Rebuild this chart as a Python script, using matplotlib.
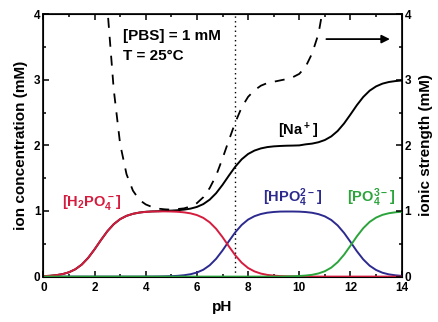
import numpy as np
import matplotlib.pyplot as plt
from matplotlib.ticker import MultipleLocator

plt.rcParams['font.family'] = ['Liberation Sans', 'DejaVu Sans']
plt.rcParams['font.weight'] = 'bold'
plt.rcParams['mathtext.fontset'] = 'custom'
plt.rcParams['mathtext.rm'] = 'Liberation Sans:bold'
plt.rcParams['mathtext.default'] = 'rm'

# pH grid (step 0.25) and values (mM)
ph = np.linspace(0, 14, 57)
h2po4 = [0.007, 0.012, 0.022, 0.038, 0.066, 0.112, 0.183, 0.285, 0.415, 0.557,
         0.691, 0.799, 0.876, 0.926, 0.957, 0.976, 0.986, 0.992, 0.993, 0.994,
         0.992, 0.988, 0.979, 0.964, 0.938, 0.895, 0.827, 0.729, 0.602, 0.460,
         0.324, 0.212, 0.131, 0.079, 0.046, 0.026, 0.015, 0.008, 0.005, 0.003,
         0.001] + [0.0] * 16
hpo4 = [0.0] * 16 + [0.001, 0.001, 0.002, 0.004, 0.007, 0.012, 0.021, 0.036, 0.062,
                     0.105, 0.173, 0.271, 0.398, 0.540, 0.676, 0.788, 0.869, 0.921,
                     0.954, 0.974, 0.985, 0.991, 0.992, 0.992, 0.990, 0.984, 0.973,
                     0.952, 0.918, 0.863, 0.780, 0.666, 0.529, 0.387, 0.262, 0.166,
                     0.101, 0.059, 0.034, 0.020, 0.011]
po4 = [0.0] * 38 + [0.003, 0.005, 0.009, 0.016, 0.027, 0.048, 0.082, 0.137, 0.220,
                    0.334, 0.471, 0.613, 0.738, 0.834, 0.899, 0.941, 0.966, 0.980,
                    0.989]
na = [0.007, 0.012, 0.022, 0.038, 0.066, 0.112, 0.183, 0.285, 0.415, 0.557,
      0.691, 0.799, 0.876, 0.926, 0.957, 0.976, 0.988, 0.994, 0.997, 1.002,
      1.006, 1.012, 1.021, 1.036, 1.062, 1.105, 1.173, 1.271, 1.398, 1.540,
      1.676, 1.788, 1.869, 1.921, 1.954, 1.974, 1.985, 1.991, 1.995, 1.997,
      2.000, 2.016, 2.027, 2.048, 2.082, 2.137, 2.220, 2.334, 2.471, 2.613,
      2.738, 2.834, 2.899, 2.941, 2.966, 2.980, 2.989]

ph_i = np.linspace(2.25, 11, 36)
ionic = [6.6, 4.1, 2.85, 2.02, 1.56, 1.31, 1.17, 1.10, 1.06, 1.035, 1.025, 1.02,
         1.03, 1.04, 1.07, 1.12, 1.21, 1.35, 1.54, 1.80, 2.08, 2.35, 2.58, 2.74,
         2.84, 2.91, 2.95, 2.97, 2.99, 3.01, 3.04, 3.09, 3.20, 3.40, 3.70, 4.25]

red, blue, green = '#d51c3e', '#2c2a8e', '#2ba43c'

fig = plt.figure(figsize=(4.38, 3.22), dpi=100)
ax = fig.add_axes([0.099, 0.141, 0.818, 0.815])
ax.plot(ph, na, color='black', lw=1.4, zorder=1)
ax.plot(ph, hpo4, color=blue, lw=1.4, zorder=2)
ax.plot(ph, h2po4, color=red, lw=1.4, zorder=3)
ax.plot(ph, po4, color=green, lw=1.4, zorder=4)
ax.plot(ph_i, ionic, color='black', lw=1.3, ls=(0, (5.5, 5)), zorder=5)
ax.axvline(7.5, color='black', lw=1.0, ls=(0, (1, 2.4)), zorder=0)

ax.set_xlim(0, 14)
ax.set_ylim(0, 4)
ax.xaxis.set_major_locator(MultipleLocator(2))
ax.xaxis.set_minor_locator(MultipleLocator(1))
ax.yaxis.set_major_locator(MultipleLocator(1))
ax.yaxis.set_minor_locator(MultipleLocator(0.5))
ax.tick_params(which='both', direction='in', top=True, width=1.1, labelsize=8.5, pad=2)
ax.tick_params(axis='x', pad=4)
ax.tick_params(which='major', length=4)
ax.tick_params(which='minor', length=2.5)
for s in ax.spines.values():
    s.set_linewidth(1.2)
ax.set_xlabel('pH', fontsize=11, fontweight='bold', labelpad=4)
ax.set_ylabel('ion concentration (mM)', fontsize=11, fontweight='bold', labelpad=4)

ax2 = ax.twinx()
ax2.set_ylim(0, 4)
ax2.yaxis.set_major_locator(MultipleLocator(1))
ax2.yaxis.set_minor_locator(MultipleLocator(0.5))
ax2.tick_params(which='both', direction='in', width=1.1, labelsize=8.5, pad=2)
ax2.tick_params(which='major', length=4)
ax2.tick_params(which='minor', length=2.5)
ax2.set_ylabel('ionic strength (mM)', fontsize=11, fontweight='bold', labelpad=6)

ax.text(3.1, 3.66, '[PBS] = 1 mM', fontsize=11, va='center')
ax.text(3.1, 3.36, 'T = 25°C', fontsize=11, va='center')
ax.text(9.95, 2.22, '[Na$^+$]', fontsize=10.5, ha='center', va='center')
ax.text(1.9, 1.13, '[H$_2$PO$_4^-$]', fontsize=10.5, ha='center', va='center', color=red)
ax.text(9.75, 1.2, '[HPO$_4^{2-}$]', fontsize=10.5, ha='center', va='center', color=blue)
ax.text(12.8, 1.2, '[PO$_4^{3-}$]', fontsize=10.5, ha='center', va='center', color=green)
ax.annotate('', xy=(13.65, 3.62), xytext=(10.95, 3.62),
            arrowprops=dict(arrowstyle='-|>', color='black', lw=1.3, mutation_scale=12))

fig.savefig('out.png', dpi=100)
